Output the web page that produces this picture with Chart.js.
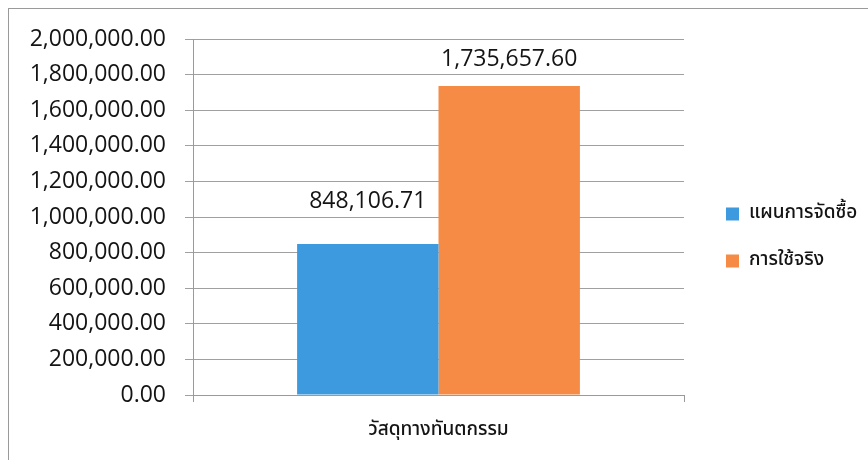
<!DOCTYPE html>
<html>
<head>
<meta charset="utf-8">
<script src="https://cdn.jsdelivr.net/npm/chart.js@4/dist/chart.umd.min.js"></script>
<style>
  html, body { margin: 0; padding: 0; background: #fff; overflow: hidden; }
  #wrap { position: relative; width: 868px; height: 460px; }
  #frame { position: absolute; left: 8px; top: 8px; width: 900px; height: 500px; border: 1px solid #9a9a9a; box-sizing: border-box; pointer-events: none; }
  canvas { position: absolute; left: 0; top: 0; }
</style>
</head>
<body>
<div id="wrap">
  <canvas id="c" width="868" height="460"></canvas>
  <div id="frame"></div>
</div>
<script>
const categories = ['วัสดุทางทันตกรรม'];
const seriesNames = ['แผนการจัดซื้อ', 'การใช้จริง'];
const planValues = [848106.71];
const actualValues = [1735657.60];
const seriesColors = ['#3d9ade', '#f58b45'];
const yMin = 0, yMax = 2000000, yStep = 200000;

const fmt = v => Number(v).toLocaleString('en-US', {minimumFractionDigits: 2, maximumFractionDigits: 2});
const numFont = "'Open Sans', 'Noto Sans', sans-serif";
const thaiFont = "'Noto Sans Thai', 'Noto Sans Thai Looped', 'Loma', 'Garuda', 'Noto Sans', sans-serif";
const textColor = '#141414';

const valueLabels = {
  id: 'valueLabels',
  afterDatasetsDraw(chart) {
    const ctx = chart.ctx;
    ctx.save();
    ctx.font = '500 23px ' + numFont;
    ctx.fillStyle = textColor;
    ctx.textAlign = 'center';
    ctx.textBaseline = 'alphabetic';
    chart.data.datasets.forEach((ds, i) => {
      const meta = chart.getDatasetMeta(i);
      meta.data.forEach((bar, j) => {
        ctx.fillText(fmt(ds.data[j]), bar.x, bar.y - ds.labelGap);
      });
    });
    ctx.restore();
  }
};

const sideLegend = {
  id: 'sideLegend',
  afterDraw(chart) {
    const ctx = chart.ctx;
    ctx.save();
    ctx.font = '500 19px ' + thaiFont;
    ctx.textBaseline = 'middle';
    ctx.textAlign = 'left';
    const x = 726, ys = [214, 261];
    chart.data.datasets.forEach((ds, i) => {
      ctx.fillStyle = ds.backgroundColor;
      ctx.fillRect(x, ys[i] - 6.5, 13, 13);
      ctx.fillStyle = textColor;
      ctx.fillText(ds.label, x + 23, ys[i]);
    });
    ctx.restore();
  }
};

new Chart(document.getElementById('c'), {
  type: 'bar',
  data: {
    labels: categories,
    datasets: [
      { label: seriesNames[0], data: planValues, backgroundColor: seriesColors[0], labelGap: 36 },
      { label: seriesNames[1], data: actualValues, backgroundColor: seriesColors[1], labelGap: 20 }
    ]
  },
  options: {
    responsive: false,
    animation: false,
    devicePixelRatio: 1,
    layout: { padding: { left: 0, right: 184, top: 39, bottom: 0 } },
    datasets: { bar: { categoryPercentage: 0.576, barPercentage: 1.0 } },
    plugins: { legend: { display: false }, tooltip: { enabled: false } },
    scales: {
      x: {
        offset: true,
        grid: { drawOnChartArea: false, drawTicks: true, tickLength: 7, color: '#9a9a9a' },
        border: { display: true, color: '#9a9a9a' },
        ticks: { color: textColor, font: { family: thaiFont, size: 19, weight: '500' }, padding: 18 },
        afterFit(axis) { axis.height = 65; }
      },
      y: {
        min: yMin, max: yMax,
        grid: { color: '#a0a0a0', tickLength: 8, lineWidth: 1 },
        border: { display: true, color: '#9a9a9a' },
        ticks: { stepSize: yStep, color: textColor, padding: 19, font: { family: numFont, size: 23, weight: '500' }, callback: v => fmt(v) },
        afterFit(axis) { axis.width = 193; }
      }
    }
  },
  plugins: [valueLabels, sideLegend]
});
</script>
</body>
</html>
